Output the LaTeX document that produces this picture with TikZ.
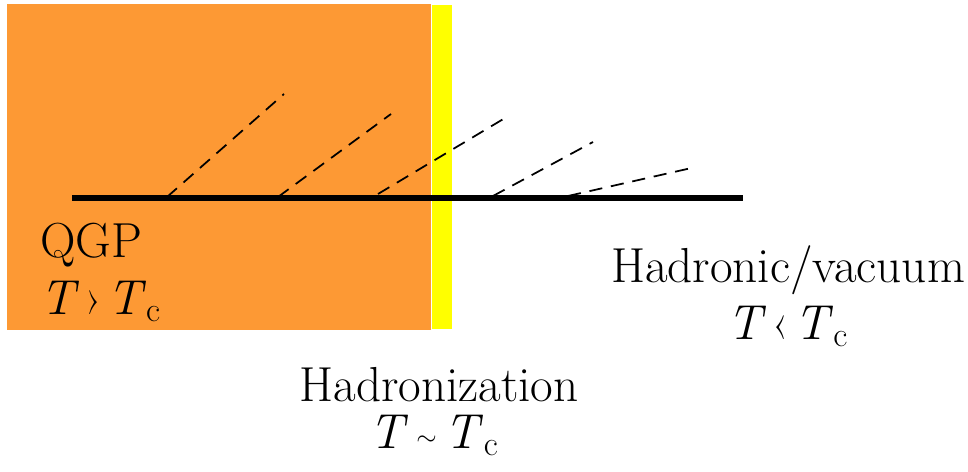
\documentclass[tikz,border=0pt]{standalone}
\definecolor{qgporange}{RGB}{253,153,52}
\definecolor{hadyellow}{RGB}{255,255,0}
\newcommand{\Tc}{\textit{T}\textsubscript{c}}

\begin{document}
\begin{tikzpicture}[x=0.02cm,y=-0.02cm,
  phase label/.style={font=\fontsize{28}{34}\selectfont, inner sep=0pt},
  jet line/.style={dash pattern=on 7.5pt off 5pt, line width=1pt}]
  \useasboundingbox (0,0) rectangle (968,472);
  % phases
  \fill[qgporange] (7,4) rectangle (431,330);
  \fill[hadyellow] (432,5) rectangle (452,329);
  % leading parton
  \coordinate (beamL) at (72,198);
  \coordinate (beamR) at (743,198);
  \draw[line width=3.4pt] (beamL) -- (beamR);
  % emitted gluons
  \coordinate (s1) at (167,197);  \coordinate (e1) at (284,94);
  \coordinate (s2) at (278,197);  \coordinate (e2) at (391,114);
  \coordinate (s3) at (378,194);  \coordinate (e3) at (505,118);
  \coordinate (s4) at (493,196);  \coordinate (e4) at (593,142);
  \coordinate (s5) at (568,196);  \coordinate (e5) at (696,167);
  \draw[jet line] (s1) -- (e1);
  \draw[jet line] (s2) -- (e2);
  \draw[jet line] (s3) -- (e3);
  \draw[jet line] (s4) -- (e4);
  \draw[jet line] (s5) -- (e5);
  % labels
  \node[phase label, anchor=base west] (qgp) at (40,258) {QGP};
  \node[phase label, anchor=base west] (qgpT) at (40,315) {\textit{T}\hspace{0.1em}›\hspace{0.1em}\Tc};
  \node[phase label, anchor=base] (hadr) at (439,402) {Hadronization};
  \node[phase label, anchor=base] (hadrT) at (434,449) {\textit{T}\,\raisebox{2pt}{\scalebox{0.6}{$\sim$}}\,\Tc};
  \node[phase label, anchor=base] (vac) at (788,283) {Hadronic/vacuum};
  \node[phase label, anchor=base] (vacT) at (788,340) {\textit{T}\hspace{0.1em}‹\hspace{0.1em}\Tc};
\end{tikzpicture}
\end{document}
